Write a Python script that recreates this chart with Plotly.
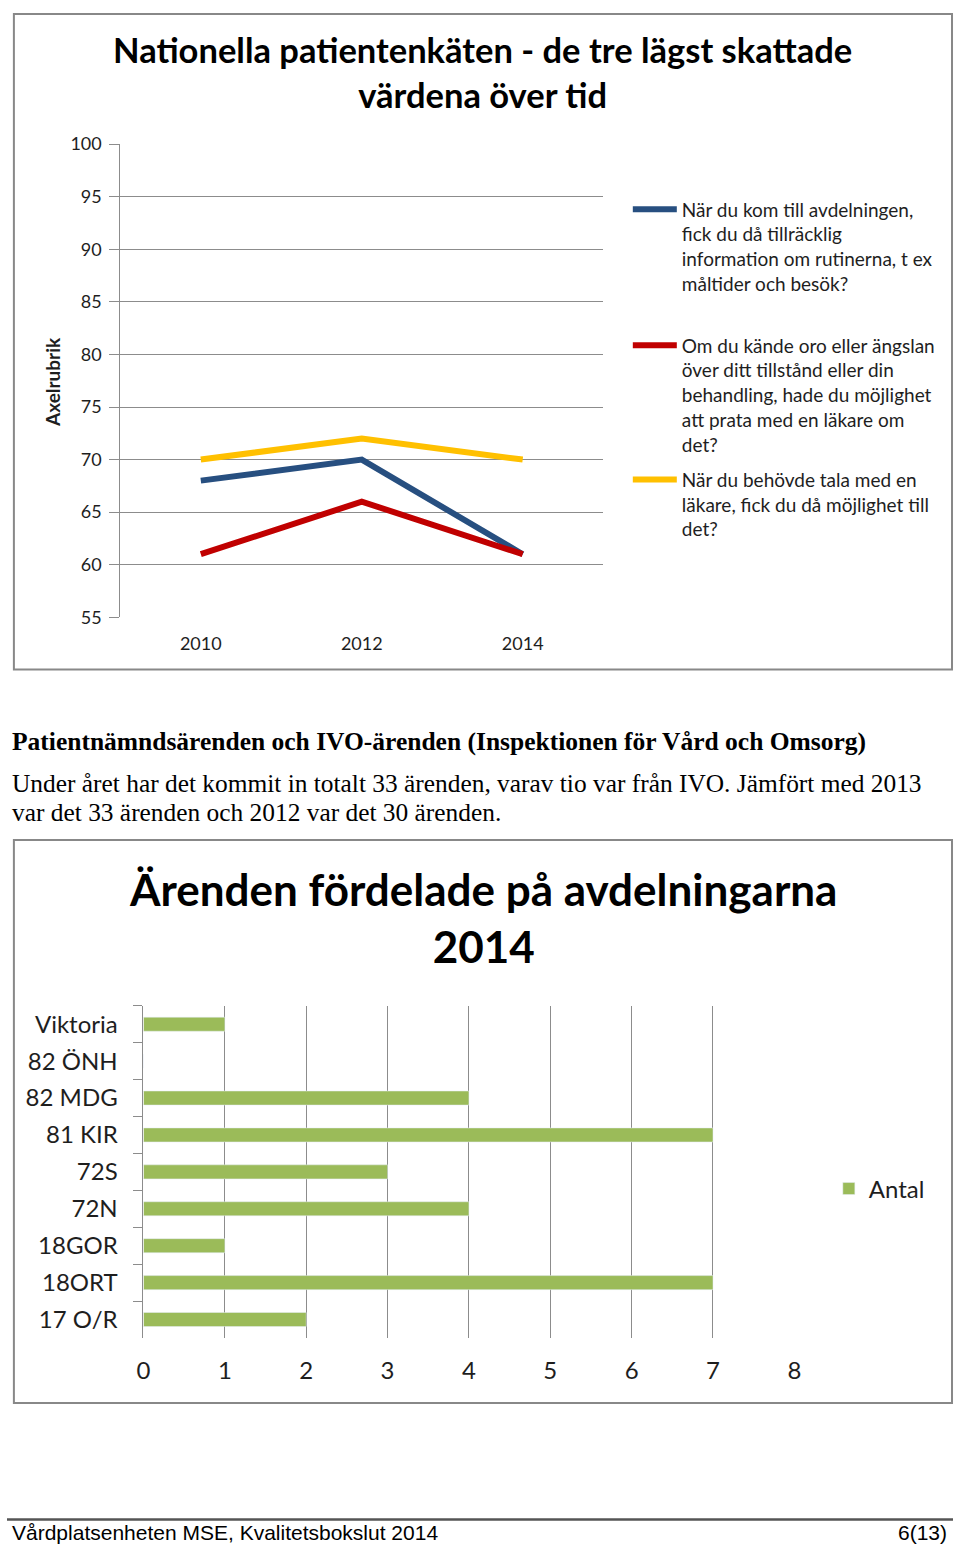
import plotly.graph_objects as go

W, H = 960, 1556

def px(x):
    return x / W

def py(y):
    return 1 - y / H

# ---------------- data ----------------
years = ["2010", "2012", "2014"]
q1_name = "När du kom till avdelningen,<br>fick du då tillräcklig<br>information om rutinerna, t ex<br>måltider och besök?"
q2_name = "Om du kände oro eller ängslan<br>över ditt tillstånd eller din<br>behandling, hade du möjlighet<br>att prata med en läkare om<br>det?"
q3_name = "När du behövde tala med en<br>läkare, fick du då möjlighet till<br>det?"
q1_vals = [68, 70, 61]
q2_vals = [61, 66, 61]
q3_vals = [70, 72, 70]
y_ticks = [55, 60, 65, 70, 75, 80, 85, 90, 95, 100]

wards = ["Viktoria", "82 ÖNH", "82 MDG", "81 KIR", "72S", "72N", "18GOR", "18ORT", "17 O/R"]
antal = [1, 0, 4, 7, 3, 4, 1, 7, 2]
x_ticks2 = [0, 1, 2, 3, 4, 5, 6, 7, 8]

FONT = "Lato"
GRID = "#8c8c8c"
TXT = "#1e1e1e"

fig = go.Figure()

fig.add_trace(go.Scatter(x=years, y=q1_vals, name=q1_name, mode="lines",
                         line=dict(color="#274f80", width=6), xaxis="x", yaxis="y", legend="legend"))
fig.add_trace(go.Scatter(x=years, y=q2_vals, name=q2_name, mode="lines",
                         line=dict(color="#c00000", width=6), xaxis="x", yaxis="y", legend="legend2"))
fig.add_trace(go.Scatter(x=years, y=q3_vals, name=q3_name, mode="lines",
                         line=dict(color="#ffc000", width=6), xaxis="x", yaxis="y", legend="legend3"))

fig.add_trace(go.Bar(y=wards, x=antal, orientation="h", name="Antal",
                     marker=dict(color="#9bbb59"), xaxis="x2", yaxis="y2", legend="legend4"))

leg_common = dict(font=dict(family=FONT, size=19, color=TXT), bgcolor="rgba(0,0,0,0)",
                  xanchor="left", yanchor="top", valign="top", itemwidth=44,
                  tracegroupgap=0)

fig.update_layout(
    width=W, height=H,
    margin=dict(l=0, r=0, t=0, b=0),
    paper_bgcolor="white", plot_bgcolor="white",
    showlegend=True,
    font=dict(family=FONT, color=TXT),
    xaxis=dict(domain=[px(115), px(605)], type="category", range=[-0.5, 2.5],
               showgrid=False, zeroline=False, showline=False, ticks="",
               tickfont=dict(family=FONT, size=18, color=TXT), ticklabelstandoff=14,
               anchor="y"),
    yaxis=dict(domain=[py(614), py(134)], range=[55, 100], tickvals=y_ticks,
               showgrid=True, gridcolor=GRID, gridwidth=1, zeroline=False,
               showline=True, linecolor=GRID, linewidth=1,
               ticks="outside", ticklen=10, tickcolor=GRID,
               tickfont=dict(family=FONT, size=18, color=TXT), ticklabelstandoff=4,
               anchor="x"),
    xaxis2=dict(domain=[px(138.5), px(799)], range=[0, 8], tickvals=x_ticks2,
                showgrid=True, gridcolor=GRID, gridwidth=1, zeroline=False,
                showline=False, ticks="",
                tickfont=dict(family=FONT, size=24, color=TXT), ticklabelstandoff=16,
                anchor="y2"),
    yaxis2=dict(domain=[py(1345), py(1008)], type="category", autorange="reversed",
                showgrid=False, zeroline=False, showline=True, linecolor=GRID, linewidth=1,
                ticks="outside", tickson="boundaries", ticklen=9, tickcolor=GRID,
                tickfont=dict(family=FONT, size=24, color=TXT), ticklabelstandoff=20,
                anchor="x2"),
    bargap=0.62,
    legend=dict(x=px(630), y=py(181), **leg_common),
    legend2=dict(x=px(630), y=py(319), **leg_common),
    legend3=dict(x=px(630), y=py(455), **leg_common),
    legend4=dict(x=px(834), y=py(1171), font=dict(family=FONT, size=24, color=TXT),
                 bgcolor="rgba(0,0,0,0)", xanchor="left", yanchor="top", itemwidth=30),
)

shapes = [
    dict(type="rect", xref="paper", yref="paper", x0=px(7), x1=px(959), y0=py(667), y1=py(2),
         line=dict(color="#888888", width=2), fillcolor="rgba(0,0,0,0)", layer="below"),
    dict(type="rect", xref="paper", yref="paper", x0=px(7), x1=px(959), y0=py(1411), y1=py(840),
         line=dict(color="#888888", width=2), fillcolor="rgba(0,0,0,0)", layer="below"),
    dict(type="line", xref="paper", yref="paper", x0=0, x1=1, y0=py(1529), y1=py(1529),
         line=dict(color="#555555", width=2.5)),
]
fig.update_layout(shapes=shapes)

ann = [
    dict(text="<b>Nationella patientenkäten - de tre lägst skattade<br>värdena över tid</b>",
         x=px(483), y=py(61), xanchor="center", yanchor="middle",
         font=dict(family=FONT, size=34.5, color="black")),
    dict(text="<b>Axelrubrik</b>", x=px(46), y=py(375), xanchor="center", yanchor="middle",
         textangle=-90, font=dict(family=FONT, size=19, color=TXT)),
    dict(text="<b>Patientnämndsärenden och IVO-ärenden (Inspektionen för Vård och Omsorg)</b>",
         x=px(3), y=py(740), xanchor="left", yanchor="middle",
         font=dict(family="Liberation Serif", size=25.5, color="black")),
    dict(text="Under året har det kommit in totalt 33 ärenden, varav tio var från IVO. Jämfört med 2013",
         x=px(3), y=py(782), xanchor="left", yanchor="middle",
         font=dict(family="Liberation Serif", size=25.4, color="black")),
    dict(text="var det 33 ärenden och 2012 var det 30 ärenden.",
         x=px(3), y=py(811), xanchor="left", yanchor="middle",
         font=dict(family="Liberation Serif", size=25.4, color="black")),
    dict(text="<b>Ärenden fördelade på avdelningarna<br>2014</b>",
         x=px(483), y=py(918), xanchor="center", yanchor="middle",
         font=dict(family=FONT, size=44, color="black")),
    dict(text="Vårdplatsenheten MSE, Kvalitetsbokslut 2014",
         x=px(3), y=py(1542), xanchor="left", yanchor="middle",
         font=dict(family="Liberation Sans", size=21, color="black")),
    dict(text="6(13)", x=px(956), y=py(1542), xanchor="right", yanchor="middle",
         font=dict(family="Liberation Sans", size=21, color="black")),
]
for a in ann:
    a.setdefault("xref", "paper")
    a.setdefault("yref", "paper")
    a.setdefault("showarrow", False)
fig.update_layout(annotations=ann)

fig.write_html("out.html", config={"displayModeBar": False},
               post_script="document.body.style.margin='0';document.body.style.overflow='hidden';")
